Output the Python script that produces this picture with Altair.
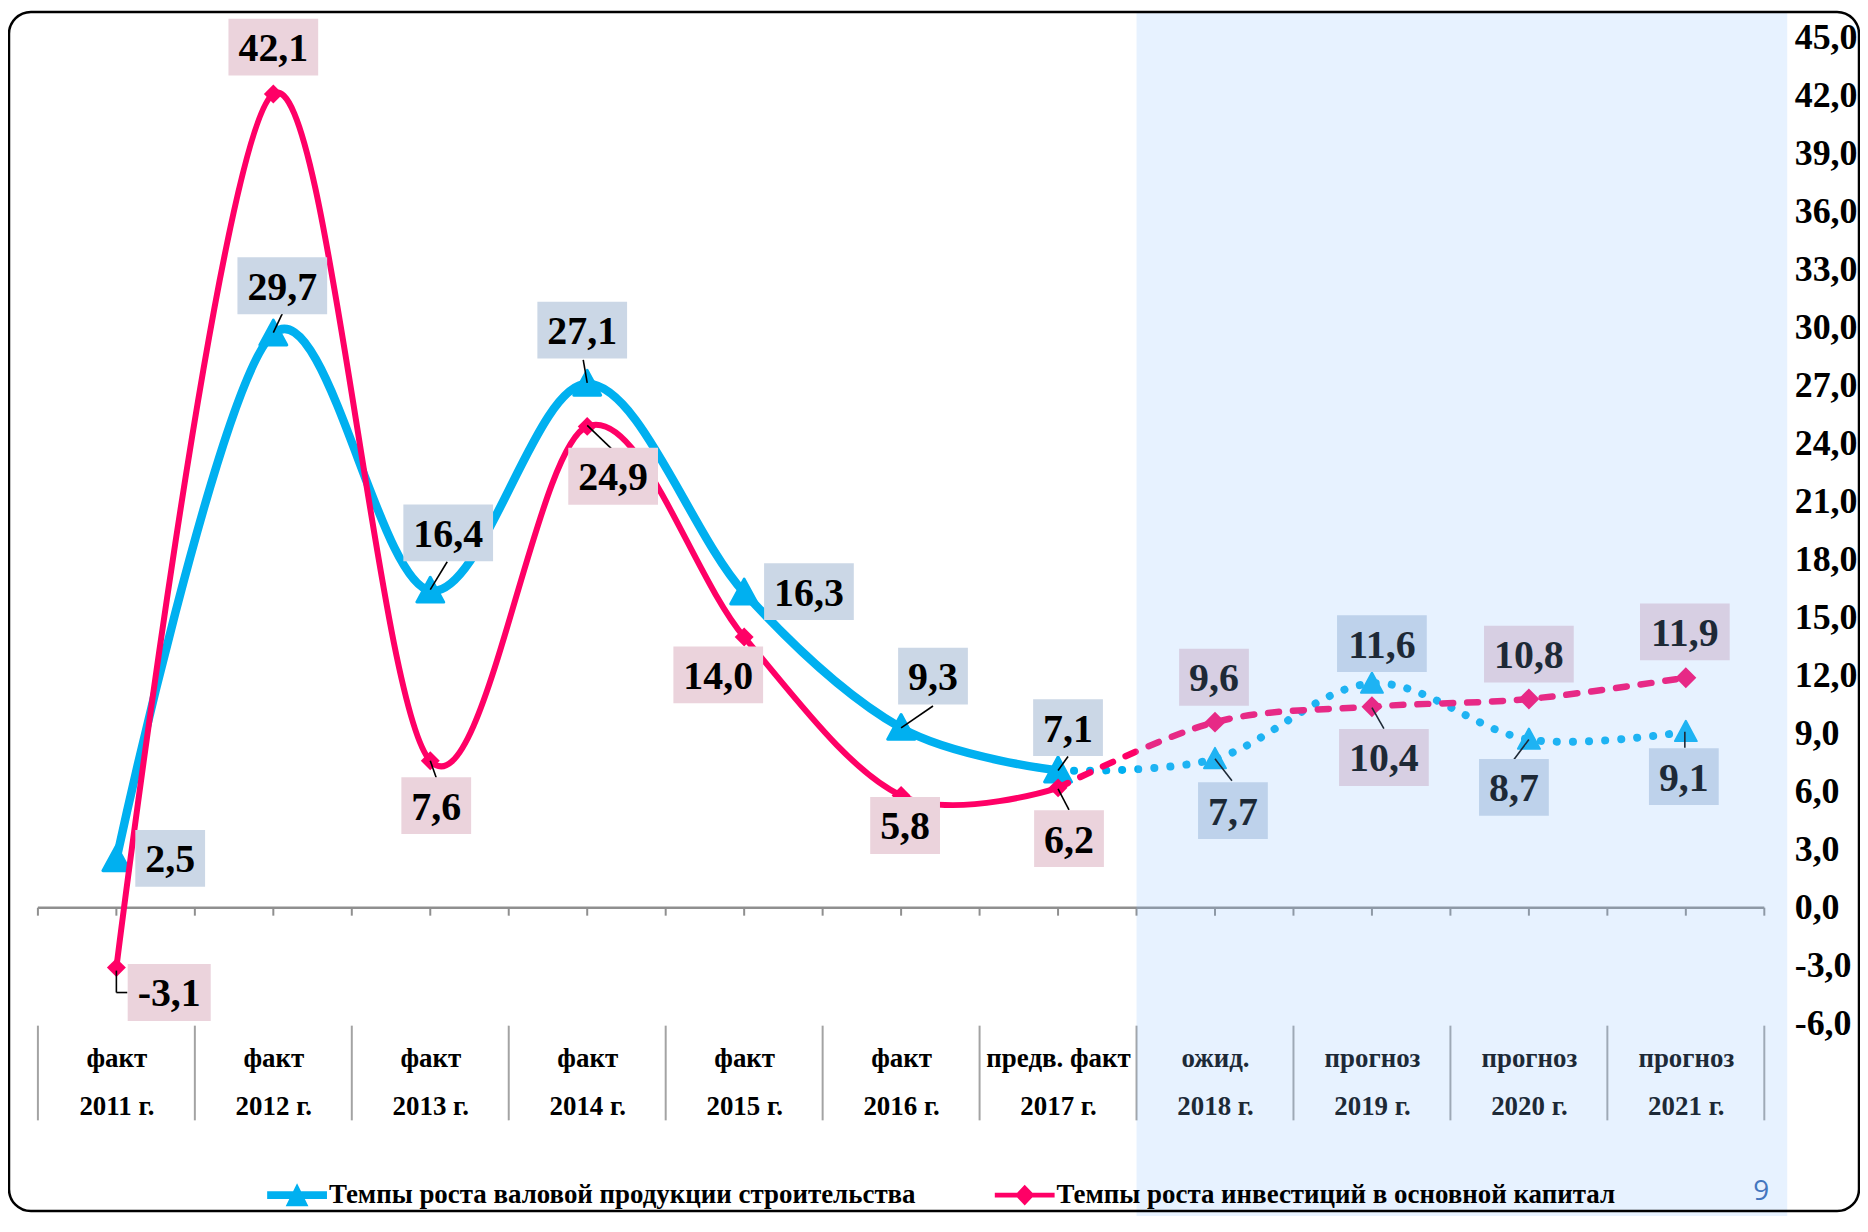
import altair as alt
import pandas as pd

# ---------------- data ----------------
period_labels = ["факт", "факт", "факт", "факт", "факт", "факт", "предв. факт",
                 "ожид.", "прогноз", "прогноз", "прогноз"]
year_labels = ["2011 г.", "2012 г.", "2013 г.", "2014 г.", "2015 г.", "2016 г.",
               "2017 г.", "2018 г.", "2019 г.", "2020 г.", "2021 г."]
construction_growth = [2.5, 29.7, 16.4, 27.1, 16.3, 9.3, 7.1, 7.7, 11.6, 8.7, 9.1]
investment_growth = [-3.1, 42.1, 7.6, 24.9, 14.0, 5.8, 6.2, 9.6, 10.4, 10.8, 11.9]
series_names = ["Темпы роста валовой продукции строительства",
                "Темпы роста инвестиций в основной капитал"]
series_keys = ["construction", "investment"]
y_tick_values = [-6, -3, 0, 3, 6, 9, 12, 15, 18, 21, 24, 27, 30, 33, 36, 39, 42, 45]
last_fact_index = 6
page_number = "9"

# ---------------- layout / style ----------------
PLOT_W, PLOT_H = 1732, 989
SERIF = "Liberation Serif, Times New Roman, serif"
BLUE = "#00b0f0"
RED = "#ff0066"
BLUE_BOX = "#cbd7e6"
RED_BOX = "#ebd3dc"
GRAY = "#8f8f8f"

# label box centre offsets (px) relative to each point
construction_label_offsets = [(54, -1), (9, -48), (18, -58), (-5, -54), (65, -1), (32, -52),
                              (10, -43), (18, 52), (10, -40), (-15, 48), (-2, 45)]
investment_label_offsets = [(53, 25), (0, -47), (6, 45), (26, 50), (-26, 38), (4, 30),
                            (11, 51), (-1, -45), (12, 51), (0, -45), (-1, -46)]
# leader lines: (index, x1, y1, x2, y2) pixel offsets from the point
construction_leaders = [(1, 0, -1, 9, -20), (2, 0, -1, 17, -29), (3, 0, -1, -4, -24),
                        (5, 0, 0, 32, -22), (6, 0, 0, 10, -14), (7, 0, 0, 17, 22),
                        (9, 0, 0, -15, 20), (10, -1, 0, -1, 16)]
investment_leaders = [(0, 0, 3, 0, 25), (0, 0, 25, 11, 25), (2, 0, 0, 6, 17),
                      (3, 0, -1, 24, 22), (6, 0, 1, 11, 22), (8, 0, 1, 12, 22)]

n = len(year_labels)
rows = []
for key, name, vals in zip(series_keys, series_names, [construction_growth, investment_growth]):
    for i, v in enumerate(vals):
        rows.append(dict(key=key, series=name, idx=i, x=i + 0.5, value=v,
                         label=f"{v:.1f}".replace(".", ",")))
df = pd.DataFrame(rows)

cat_js = "[" + ",".join(f"'{p}|{y}'" for p, y in zip(period_labels, year_labels)) + "]"

xscale = alt.Scale(domain=[0, n], nice=False, zero=False)
yscale = alt.Scale(domain=[min(y_tick_values), max(y_tick_values)], nice=False, zero=False)
x_axis = alt.Axis(
    values=[i + 0.5 for i in range(n)],
    labelExpr=f"split({cat_js}[floor(datum.value)], '|')",
    ticks=False, domain=False, grid=False, title=None,
    labelFont=SERIF, labelFontSize=27, labelFontWeight="bold", labelColor="black",
    labelBaseline="top", labelPadding=22, labelLineHeight=48,
    labelFlush=False, labelOverlap=False, labelBound=False, zindex=0)
y_axis = alt.Axis(
    orient="right", values=y_tick_values,
    labelExpr="replace(replace(format(datum.value, '.1f'), '.', ','), '\u2212', '-')",
    ticks=False, tickSize=0, domain=False, grid=False, title=None,
    labelFont=SERIF, labelFontSize=36, labelFontWeight="bold", labelColor="black",
    labelAlign="left", labelBaseline="middle", labelPadding=30,
    labelOverlap=False, labelBound=False, labelFlush=False, zindex=0)


def XF(field):
    return alt.X(f"{field}:Q", scale=xscale, axis=x_axis)


def YF(field):
    return alt.Y(f"{field}:Q", scale=yscale, axis=y_axis)


X = XF("x")
Y = YF("value")
base = alt.Chart(df)

# ---------------- zero line with ticks ----------------
zero_df = pd.DataFrame({"start": [0], "end": [n], "zero": [0]})
zero_line = alt.Chart(zero_df).mark_rule(color=GRAY, strokeWidth=2.5).encode(
    x=XF("start"), x2="end:Q", y=YF("zero"))

tick_df = pd.DataFrame({"x": [k * 0.5 for k in range(2 * n + 1)], "zero": 0})
zero_ticks = alt.Chart(tick_df).mark_rule(color=GRAY, strokeWidth=2, y2Offset=8).encode(
    x=X, y=YF("zero"), y2="zero:Q")

sep_df = pd.DataFrame({"x": list(range(n + 1))})
separators = alt.Chart(sep_df).mark_rule(color="#a3a3a3", strokeWidth=2).encode(
    x=X, y=alt.value(991), y2=alt.value(1086))

# ---------------- lines & markers ----------------
def sel(key, cond):
    return base.transform_filter(f"datum.key == '{key}' && {cond}")


blue_fact = sel("construction", f"datum.idx <= {last_fact_index}").mark_line(
    interpolate="cardinal", color=BLUE, strokeWidth=8.5, strokeCap="round", strokeJoin="round"
).encode(x=X, y=Y)
blue_fore = sel("construction", f"datum.idx >= {last_fact_index}").mark_line(
    interpolate="cardinal", color=BLUE, strokeWidth=8, strokeCap="round", strokeDash=[0.1, 16]
).encode(x=X, y=Y)
TRI = "M0,-1L1,0.85L-1,0.85Z"
DIA = "M0,-1L1,0L0,1L-1,0Z"
blue_marks = sel("construction", f"datum.idx <= {last_fact_index}").mark_point(
    shape=TRI, size=729, filled=True, color=BLUE, opacity=1, stroke=BLUE, strokeWidth=3,
    strokeJoin="round").encode(x=X, y=Y)
blue_marks_f = sel("construction", f"datum.idx > {last_fact_index}").mark_point(
    shape=TRI, size=484, filled=True, color=BLUE, opacity=1, stroke=BLUE, strokeWidth=2,
    strokeJoin="round").encode(x=X, y=Y)

red_fact = sel("investment", f"datum.idx <= {last_fact_index}").mark_line(
    interpolate="cardinal", color=RED, strokeWidth=6, strokeCap="round", strokeJoin="round"
).encode(x=X, y=Y)
red_fore = sel("investment", f"datum.idx >= {last_fact_index}").mark_line(
    interpolate="cardinal", color=RED, strokeWidth=6.5, strokeCap="round", strokeDash=[11, 14]
).encode(x=X, y=Y)
red_marks = sel("investment", f"datum.idx <= {last_fact_index}").mark_point(
    shape=DIA, size=361, filled=True, color=RED, opacity=1).encode(x=X, y=Y)
red_marks_f = sel("investment", f"datum.idx > {last_fact_index}").mark_point(
    shape=DIA, size=441, filled=True, color=RED, opacity=1).encode(x=X, y=Y)

# ---------------- data labels ----------------
CHAR_W = {",": 10.0, "-": 13.3}


def text_width(s):
    return sum(CHAR_W.get(c, 20.0) for c in s)


def box_path(w, h=57):
    k = h / w
    return f"M-1,{-k:.4f}L1,{-k:.4f}L1,{k:.4f}L-1,{k:.4f}Z"


label_layers = []
leader_layers = []
for key, vals, offsets, box_color, leaders in [
        ("construction", construction_growth, construction_label_offsets, BLUE_BOX, construction_leaders),
        ("investment", investment_growth, investment_label_offsets, RED_BOX, investment_leaders)]:
    for i, (dx, dy) in enumerate(offsets):
        txt = f"{vals[i]:.1f}".replace(".", ",")
        w = text_width(txt) + 20
        s = sel(key, f"datum.idx == {i}")
        label_layers.append(s.mark_point(
            shape=box_path(w), size=w * w, filled=True, color=box_color, opacity=1,
            strokeWidth=0, xOffset=dx, yOffset=dy).encode(x=X, y=Y))
        label_layers.append(s.mark_text(
            font=SERIF, fontSize=40, fontWeight="bold", color="black", align="center",
            baseline="middle", xOffset=dx, yOffset=dy + 2).encode(x=X, y=Y, text="label:N"))
    for (i, x1, y1, x2, y2) in leaders:
        s = sel(key, f"datum.idx == {i}")
        leader_layers.append(s.mark_rule(
            color="black", strokeWidth=1.6, xOffset=x1, yOffset=y1, x2Offset=x2, y2Offset=y2
        ).encode(x=X, y=Y, x2="x:Q", y2="value:Q"))

# ---------------- page number ----------------
page = alt.Chart(pd.DataFrame({"page": [page_number]})).mark_text(
    font="Open Sans, Liberation Sans, sans-serif", fontSize=28, color="#2f62ad",
    align="center", baseline="middle").encode(
    x=alt.value(1729), y=alt.value(1158), text="page:N")

# ---------------- forecast shading (translucent overlay) ----------------
shade_df = pd.DataFrame({"start": [last_fact_index + 1]})
shade = alt.Chart(shade_df).mark_rect(color="#90c0ff", opacity=0.21).encode(
    x=XF("start"), x2=alt.value(1755),
    y=alt.value(-25), y2=alt.value(1185))

# ---------------- legend ----------------
LEG_BLUE = "M-1,-0.13L1,-0.13L1,0.13L-1,0.13Z M-0.38,0.37L0,-0.4L0.38,0.37Z"
LEG_RED = "M-1,-0.08L1,-0.08L1,0.08L-1,0.08Z M0,-0.35L0.33,0L0,0.35L-0.33,0Z"
leg_props = dict(orient="none", legendX=230, legendY=1131, direction="horizontal", title=None,
                 labelFont=SERIF, labelFontSize=27, labelFontWeight="bold", labelColor="black",
                 labelLimit=1000, symbolSize=3600, columnPadding=79, labelOffset=2, padding=0,
                 symbolStrokeWidth=0, symbolOpacity=1)
legend_layer = alt.Chart(pd.DataFrame({"series": series_names})).transform_filter(
    "false").mark_point(filled=True, opacity=1, size=3600).encode(
    x=alt.value(0), y=alt.value(0),
    color=alt.Color("series:N", scale=alt.Scale(domain=series_names, range=[BLUE, RED]),
                    legend=alt.Legend(**leg_props)),
    shape=alt.Shape("series:N", scale=alt.Scale(domain=series_names, range=[LEG_BLUE, LEG_RED]),
                    legend=alt.Legend(**leg_props)))

# ---------------- rounded frame ----------------
frame = alt.Chart(pd.DataFrame({"f": [1]})).mark_rect(
    fillOpacity=0, stroke="black", strokeWidth=2.5, cornerRadius=22).encode(
    x=alt.value(-29), x2=alt.value(1827), y=alt.value(-26), y2=alt.value(1177))

chart = alt.layer(
    zero_line, zero_ticks, separators,
    blue_fact, blue_fore, blue_marks, blue_marks_f,
    red_fact, red_fore, red_marks, red_marks_f,
    *leader_layers, *label_layers, page, shade, legend_layer, frame
).properties(
    width=PLOT_W, height=PLOT_H,
    padding={"left": 30, "top": 28, "right": 96, "bottom": 191},
    autosize=alt.AutoSizeParams(type="none"),
    background="white",
).configure_view(stroke="transparent")

chart.save("out.html", embed_options={"renderer": "svg", "actions": False})
